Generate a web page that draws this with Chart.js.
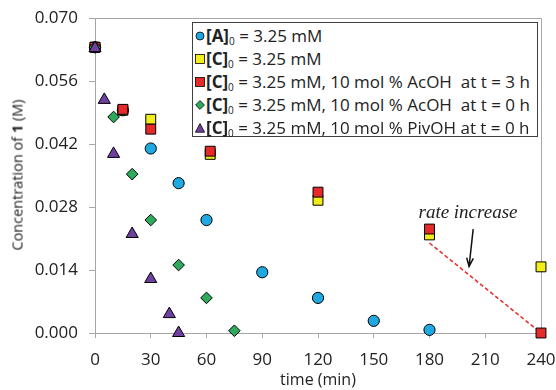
<!DOCTYPE html>
<html>
<head>
<meta charset="utf-8">
<script src="https://cdn.jsdelivr.net/npm/chart.js@4.4.1/dist/chart.umd.min.js"></script>
<style>
  body { margin: 0; background: #fff; }
  #wrap { position: relative; width: 556px; height: 390px; font-family: "Open Sans", sans-serif; color: #222; }
  #legend {
    position: absolute; left: 192px; top: 22px; width: 344px; height: 112px;
    border: 1px solid #404040; background: #fff; box-sizing: content-box;
    font-size: 17px; line-height: 23px; padding-top: 1px;
  }
  #legend .row { white-space: pre; height: 23px; display: flex; align-items: center; }
  #legend svg { margin: 0 1px 0 2px; }
  #legend sub { font-size: 10px; vertical-align: -3px; line-height: 0; }
  #ytitle {
    position: absolute; left: 17px; top: 175px; transform: translate(-50%, -50%) rotate(-90deg);
    white-space: nowrap; font-size: 14.5px;
  }
  #note {
    position: absolute; left: 468px; top: 212px; transform: translate(-50%, -50%);
    font-family: "Liberation Serif", "DejaVu Serif", serif; font-style: italic; font-size: 19px; white-space: nowrap;
  }
</style>
</head>
<body>
<div id="wrap">
  <canvas id="chart" width="556" height="390"></canvas>
  <div id="ytitle">Concentration of <b>1</b> (M)</div>
  <div id="note">rate increase</div>
  <div id="legend">
    <div class="row"><svg width="10" height="10"><circle cx="5" cy="5" r="4" fill="#1EA9E1" stroke="#000" stroke-width="0.8"/></svg><span><b>[A]</b><sub>0</sub> = 3.25 mM</span></div>
    <div class="row"><svg width="10" height="10"><rect x="0.5" y="0.5" width="9" height="9" fill="#F2EE1C" stroke="#000" stroke-width="0.8"/></svg><span><b>[C]</b><sub>0</sub> = 3.25 mM</span></div>
    <div class="row"><svg width="10" height="10"><rect x="0.5" y="0.5" width="9" height="9" fill="#E62A2A" stroke="#000" stroke-width="0.8"/></svg><span><b>[C]</b><sub>0</sub> = 3.25 mM, 10 mol % AcOH  at t = 3 h</span></div>
    <div class="row"><svg width="10" height="10"><polygon points="5,0.6 9.4,5 5,9.4 0.6,5" fill="#2EAA5C" stroke="#000" stroke-width="0.8"/></svg><span><b>[C]</b><sub>0</sub> = 3.25 mM, 10 mol % AcOH  at t = 0 h</span></div>
    <div class="row"><svg width="10" height="10"><polygon points="5,0.5 9.6,9.2 0.4,9.2" fill="#7040A0" stroke="#000" stroke-width="0.8"/></svg><span><b>[C]</b><sub>0</sub> = 3.25 mM, 10 mol % PivOH at t = 0 h</span></div>
  </div>
</div>
<script>
// time (min) and concentration of 1 (M)
const timeA = [0, 15, 30, 45, 60, 90, 120, 150, 180]
const concA = [0.0635, 0.0495, 0.0410, 0.0333, 0.0251, 0.0135, 0.0078, 0.0027, 0.0007]

const timeC = [0, 15, 30, 62, 120, 180, 240]
const concC = [0.0635, 0.0495, 0.0475, 0.0397, 0.0295, 0.0218, 0.0147]

const timeCAcOH3h = [0, 15, 30, 62, 120, 180, 240]
const concCAcOH3h = [0.0635, 0.0497, 0.0453, 0.0404, 0.0313, 0.0231, 0.0000]

const timeCAcOH0h = [0, 10, 20, 30, 45, 60, 75]
const concCAcOH0h = [0.0635, 0.0480, 0.0353, 0.0251, 0.0151, 0.0078, 0.0005]

const timeCPivOH = [0, 5, 10, 20, 30, 40, 45]
const concCPivOH = [0.0633, 0.0518, 0.0398, 0.0220, 0.0120, 0.0042, 0.0000]

// dashed "rate increase" guide
const rateLineTime = [180, 240]
const rateLineConc = [0.0200, 0.0000]
// arrow under the note
const arrowTime = [203.5, 201.3]
const arrowConc = [0.0231, 0.0148]

const xTicks = [0, 30, 60, 90, 120, 150, 180, 210, 240]
const yTicks = [0, 0.014, 0.028, 0.042, 0.056, 0.070]

const pts = (xs, ys) => xs.map((x, i) => ({x: x, y: ys[i]}))

const series = [
    { data: pts(timeA, concA), pointStyle: 'circle', radius: 5.6, color: '#1EA9E1', order: 4 },
    { data: pts(timeC, concC), pointStyle: 'rect', radius: 7, color: '#F2EE1C', order: 3 },
    { data: pts(timeCAcOH3h, concCAcOH3h), pointStyle: 'rect', radius: 7, color: '#E62A2A', order: 2 },
    { data: pts(timeCAcOH0h, concCAcOH0h), pointStyle: 'rectRot', radius: 5.8, color: '#2EAA5C', order: 1 },
    { data: pts(timeCPivOH, concCPivOH), pointStyle: 'triangle', radius: 7, color: '#7040A0', order: 0 }
]

const datasets = series.map(s => ({
    type: 'scatter',
    data: s.data,
    pointStyle: s.pointStyle,
    pointRadius: s.radius,
    pointHoverRadius: s.radius,
    pointBackgroundColor: s.color,
    pointBorderColor: '#000',
    pointBorderWidth: 1,
    showLine: false,
    clip: false,
    order: s.order
}))

datasets.push({
    type: 'line',
    data: pts(rateLineTime, rateLineConc),
    borderColor: '#E8312F',
    borderWidth: 1.6,
    borderDash: [4, 2.5],
    pointRadius: 0,
    fill: false,
    clip: false,
    order: 5
})

const frameAndArrow = {
    id: 'frameAndArrow',
    beforeDatasetsDraw(chart) {
        const {ctx, chartArea: a} = chart
        ctx.save()
        ctx.strokeStyle = '#A6A6A6'
        ctx.lineWidth = 1
        ctx.beginPath()
        ctx.moveTo(a.left, a.top + 0.5)
        ctx.lineTo(a.right + 0.5, a.top + 0.5)
        ctx.lineTo(a.right + 0.5, a.bottom)
        ctx.stroke()
        ctx.restore()
    },
    afterDatasetsDraw(chart) {
        const {ctx, scales: {x, y}} = chart
        const x0 = x.getPixelForValue(arrowTime[0]), y0 = y.getPixelForValue(arrowConc[0])
        const x1 = x.getPixelForValue(arrowTime[1]), y1 = y.getPixelForValue(arrowConc[1])
        const ang = Math.atan2(y1 - y0, x1 - x0)
        ctx.save()
        ctx.strokeStyle = '#111'
        ctx.lineWidth = 1.5
        ctx.beginPath()
        ctx.moveTo(x0, y0)
        ctx.lineTo(x1, y1)
        ctx.moveTo(x1 - 9 * Math.cos(ang - 0.38), y1 - 9 * Math.sin(ang - 0.38))
        ctx.lineTo(x1, y1)
        ctx.lineTo(x1 - 9 * Math.cos(ang + 0.38), y1 - 9 * Math.sin(ang + 0.38))
        ctx.stroke()
        ctx.restore()
    }
}

new Chart(document.getElementById('chart').getContext('2d'), {
    data: { datasets: datasets },
    options: {
        responsive: false,
        animation: false,
        devicePixelRatio: 1,
        layout: { padding: { left: 0, top: 18, right: 15, bottom: 0 } },
        plugins: { legend: { display: false }, tooltip: { enabled: false } },
        scales: {
            x: {
                type: 'linear',
                min: 0, max: 240,
                afterBuildTicks: s => { s.ticks = xTicks.map(v => ({value: v})) },
                afterFit: s => { s.height = 57; s.paddingLeft = 0; s.paddingRight = 0 },
                grid: { drawOnChartArea: false, color: '#A6A6A6', tickLength: 5 },
                border: { color: '#A6A6A6' },
                ticks: { color: '#222', font: { family: 'Open Sans', size: 17 }, padding: 12, maxRotation: 0 },
                title: { display: true, text: 'time (min)', color: '#222', font: { family: 'Open Sans', size: 16 }, padding: { top: 0, bottom: 0 } }
            },
            y: {
                type: 'linear',
                min: 0, max: 0.070,
                afterBuildTicks: s => { s.ticks = yTicks.map(v => ({value: v})) },
                afterFit: s => { s.width = 95; s.paddingTop = 0; s.paddingBottom = 0 },
                grid: { drawOnChartArea: false, color: '#A6A6A6', tickLength: 6 },
                border: { color: '#A6A6A6' },
                ticks: { color: '#222', font: { family: 'Open Sans', size: 17 }, padding: 11, callback: v => v.toFixed(3) }
            }
        }
    },
    plugins: [frameAndArrow]
})
</script>
</body>
</html>
